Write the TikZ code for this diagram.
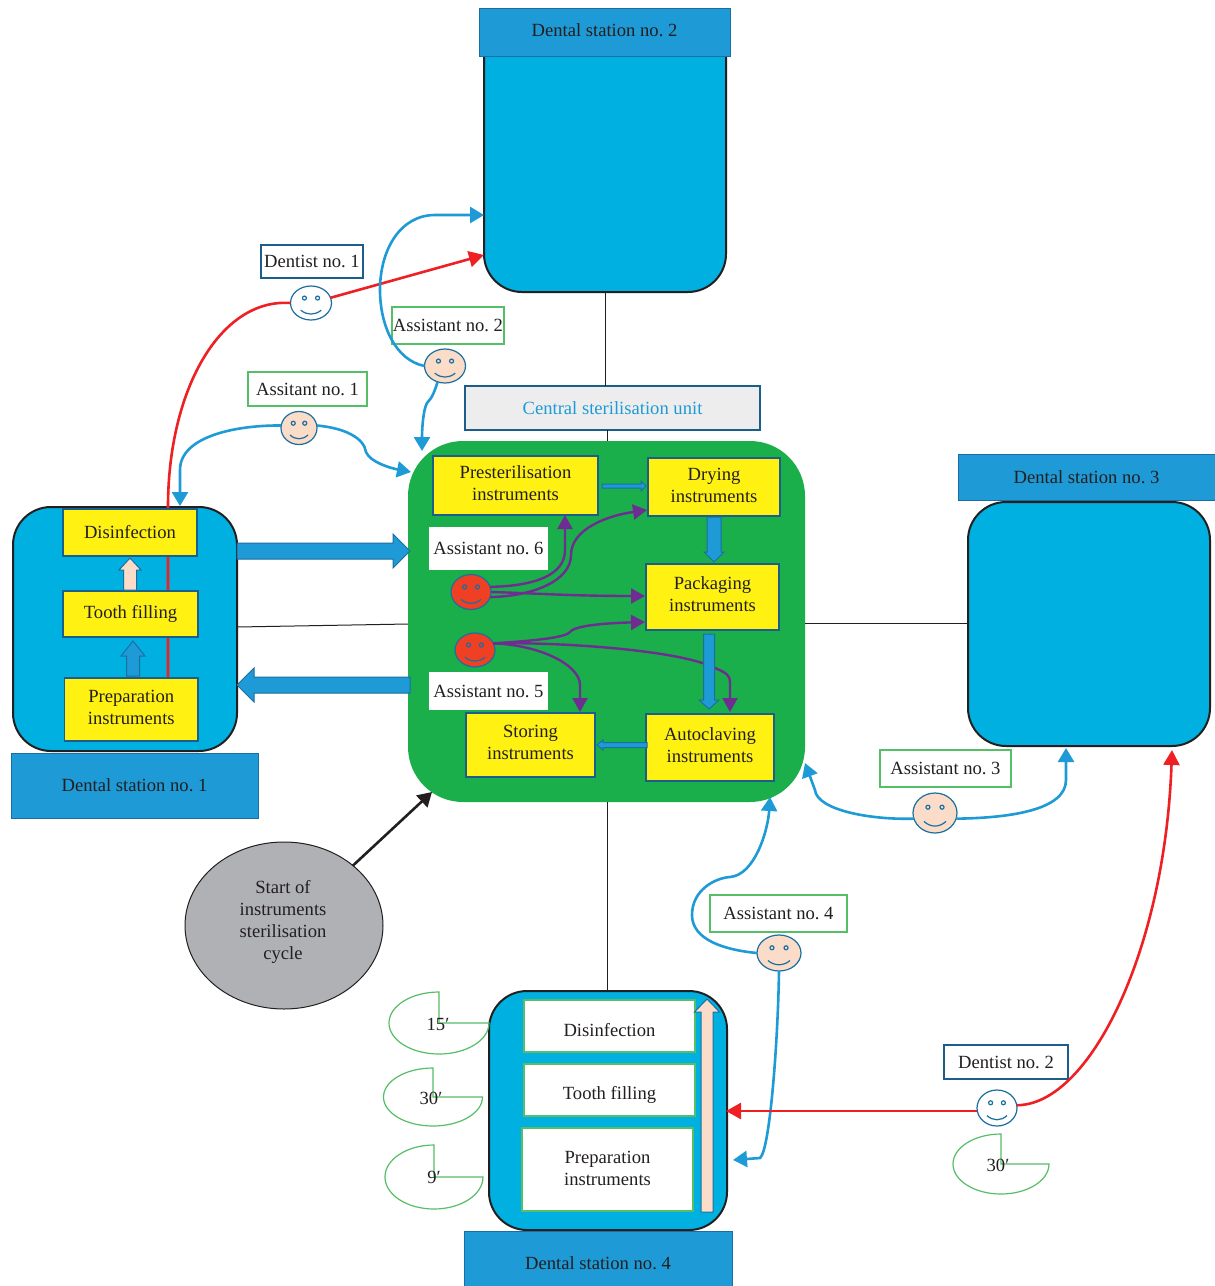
\documentclass[tikz,border=0pt]{standalone}
\usepackage{fontspec}
\setmainfont{Liberation Serif}
\usetikzlibrary{arrows.meta,calc,shapes.geometric}
\definecolor{cyanbody}{HTML}{00B0E0}
\definecolor{headblue}{HTML}{1E9AD6}
\definecolor{edgeblue}{HTML}{1B6FA0}
\definecolor{navyedge}{HTML}{1B5E8C}
\definecolor{darkedge}{HTML}{231F20}
\definecolor{yellowbox}{HTML}{FFF212}
\definecolor{greenblock}{HTML}{1BAF4B}
\definecolor{greenedge}{HTML}{55BE66}
\definecolor{peach}{HTML}{FADCC8}
\definecolor{redface}{HTML}{EF4023}
\definecolor{purplearrow}{HTML}{6F2C91}
\definecolor{redarrow}{HTML}{EE2024}
\definecolor{greyoval}{HTML}{B0B1B5}
\definecolor{lightgrey}{HTML}{EDEDEE}
\definecolor{textc}{HTML}{231F20}
\tikzset{
  every node/.style={font=\fontsize{18.6}{22}\selectfont\frenchspacing,text=textc,inner sep=0pt,outer sep=0pt,align=center},
  stationbody/.style={draw=darkedge,line width=2pt,fill=cyanbody,rounded corners=38pt},
  stationhead/.style={draw=edgeblue,line width=1pt,fill=headblue},
  ybox/.style={draw=navyedge,line width=1.2pt,fill=yellowbox},
  wbox/.style={draw=greenedge,line width=1.2pt,fill=white},
  plainbox/.style={fill=white},
  navylabel/.style={draw=navyedge,line width=1.2pt,fill=white},
  greenlabel/.style={draw=greenedge,line width=1.2pt,fill=white},
  thinline/.style={draw=darkedge,line width=1pt},
  bluecurve/.style={draw=headblue,line width=2.6pt,-{Triangle[length=14pt,width=16pt,fill=headblue]}},
  redcurve/.style={draw=redarrow,line width=2.6pt,-{Triangle[length=15pt,width=16pt,fill=redarrow]}},
  purplecurve/.style={draw=purplearrow,line width=2.4pt,-{Triangle[length=14pt,width=15pt,fill=purplearrow]}},
  pieline/.style={draw=greenedge,line width=1.2pt},
  faceline/.style={draw=edgeblue,line width=1.2pt},
  blockblue/.style={draw=edgeblue,line width=1pt,fill=headblue},
  blockpeach/.style={draw=edgeblue,line width=1pt,fill=peach},
  blockto/.style n args={3}{to path={
    ($(\tikztostart)!#1pt!90:(\tikztotarget)$)
    -- ($($(\tikztotarget)!#3pt!(\tikztostart)$)!#1pt!90:(\tikztotarget)$)
    -- ($($(\tikztotarget)!#3pt!(\tikztostart)$)!#2pt!90:(\tikztotarget)$)
    -- (\tikztotarget)
    -- ($($(\tikztotarget)!#3pt!(\tikztostart)$)!#2pt!-90:(\tikztotarget)$)
    -- ($($(\tikztotarget)!#3pt!(\tikztostart)$)!#1pt!-90:(\tikztotarget)$)
    -- ($(\tikztostart)!#1pt!-90:(\tikztotarget)$) -- cycle}}
}
\newcommand{\bx}[6]{\node[#1,minimum width={(#5-#3)*1pt},minimum height={(#6-#4)*1pt}] (#2) at ({(#3+#5)/2},{(#4+#6)/2}) {};}
\newcommand{\bxt}[7]{\node[#1,minimum width={(#5-#3)*1pt},minimum height={(#6-#4)*1pt}] (#2) at ({(#3+#5)/2},{(#4+#6)/2}) {#7};}
% text block moved up (txtup) or down (txtdn) by half of the extra padding
\newcommand{\txtup}[2]{\raisebox{0pt}[\height][\dimexpr\depth+#1pt\relax]{\begin{tabular}{@{}c@{}}#2\end{tabular}}}
\newcommand{\txtdn}[2]{\raisebox{0pt}[\dimexpr\height+#1pt\relax][\depth]{\begin{tabular}{@{}c@{}}#2\end{tabular}}}
% name, x, y, rx, ry, fill
\newcommand{\smiley}[6]{%
  \node[ellipse,draw=edgeblue,line width=1.2pt,fill=#6,minimum width={2*#4*1pt},minimum height={2*#5*1pt}] (#1) at (#2,#3) {};
  \draw[faceline] ({#2-0.32*#4},{#3-0.29*#5}) circle[radius=2pt];
  \draw[faceline] ({#2+0.32*#4},{#3-0.29*#5}) circle[radius=2pt];
  \draw[faceline] ({#2-0.5*#4},{#3+0.42*#5}) .. controls ({#2-0.2*#4},{#3+0.73*#5}) and ({#2+0.2*#4},{#3+0.73*#5}) .. ({#2+0.5*#4},{#3+0.42*#5});
}
% cx, cy, rx, ry
\newcommand{\pacman}[4]{\draw[pieline] (#1,#2) -- (#1,{#2-#4}) arc[start angle=90,end angle=360,x radius=#3pt,y radius=#4pt] -- cycle;}
\begin{document}
\begin{tikzpicture}[x=1pt,y=-1pt]
\useasboundingbox (0,0) rectangle (1215,1286);
\fill[white] (0,0) rectangle (1215,1286);

% Stations' bodies and central block
\bx{stationbody}{body2}{484}{10}{726}{292}
\bxt{stationhead}{head2}{479}{8}{730}{56}{\txtdn{1}{Dental station no. 2\hspace{9pt}}}
\bx{stationbody}{body3}{968}{502}{1210}{746}
\bxt{stationhead}{head3}{958}{454}{1215}{500}{Dental station no. 3}
\bx{stationbody}{body1}{13}{507}{237}{751}
\bxt{stationhead}{head1}{11}{753}{258}{818}{Dental station no. 1}
\bx{stationbody}{body4}{489}{991}{727}{1230}
\bxt{stationhead}{head4}{464}{1231}{732}{1286}{\txtdn{13}{Dental station no. 4}}
\node[fill=greenblock,rounded corners=55pt,minimum width=397pt,minimum height=361pt] (central) at (606.5,621.5) {};
\bxt{draw=navyedge,line width=1.2pt,fill=lightgrey,text=headblue}{unit}{465}{386}{760}{430}{Central sterilisation unit}

% Thin connecting lines
\draw[thinline] (body2.south) -- ([xshift=-7.5pt]unit.north);
\draw[thinline] ([xshift=-5.5pt]unit.south) -- ([xshift=0.5pt]central.north);
\draw[thinline] ([yshift=2pt]body1.east) -- ([yshift=-2.5pt]central.west);
\draw[thinline] ([yshift=-1.5pt]central.east) -- ([yshift=1pt]body3.west);
\draw[thinline] ([xshift=0.5pt]central.south) -- ([xshift=-1pt]body4.north);

% Faces
\smiley{dentA}{311}{303}{20.5}{17}{white}
\smiley{asstTwo}{445}{366}{20.5}{17}{peach}
\smiley{asstOne}{299}{428}{18}{16.5}{peach}
\smiley{asstThree}{935}{813}{22}{20}{peach}
\smiley{asstFour}{779}{953}{22}{18}{peach}
\smiley{dentB}{997}{1108}{20}{18}{white}
\smiley{asstSix}{471}{592}{20}{17.5}{redface}
\smiley{asstFive}{475}{650}{20}{17}{redface}

% Red dentist no. 1 route, behind the yellow boxes
\draw[draw=redarrow,line width=2.6pt] (dentA.west) .. controls (220,298) and (168,390) .. (168,507) -- (168,678);
\draw[redcurve] (dentA.15) -- ([yshift=-104pt]body2.west);

% Yellow boxes of station 1
\bxt{ybox}{disA}{63}{509}{197}{556}{Disinfection}
\bxt{ybox}{fillA}{63}{591}{198}{637}{Tooth filling}
\bxt{ybox}{prepA}{64.5}{678}{198}{741}{\txtup{1}{Preparation\\instruments}}

% Yellow boxes of sterilisation unit
\bxt{ybox}{pres}{433}{456}{598}{515}{\txtup{1}{Presterilisation\\instruments}}
\bxt{ybox}{dry}{648}{458}{780}{516}{\txtup{0}{Drying\\instruments}}
\bxt{ybox}{pack}{646}{564}{779}{630}{\txtup{1}{Packaging\\instruments}}
\bxt{ybox}{auto}{646}{714}{774}{781}{\txtup{1}{Autoclaving\\instruments}}
\bxt{ybox}{store}{466}{713}{595}{777}{\txtup{1}{Storing\\instruments}}
\bxt{plainbox}{lblSix}{429}{527}{548}{570}{Assistant no. 6}
\bxt{plainbox}{lblFive}{429}{672}{548}{710}{Assistant no. 5}

% Station 4 white boxes
\bxt{wbox}{disB}{524}{1000}{695}{1052}{\txtdn{12}{Disinfection}}
\bxt{wbox}{fillB}{524}{1064}{695}{1116}{\txtdn{10}{Tooth filling}}
\bxt{wbox}{prepB}{522}{1128}{693}{1211}{\txtdn{2}{Preparation\\instruments}}

% Labels
\bxt{navylabel}{lblDentA}{261}{245}{363}{278}{Dentist no. 1}
\bxt{greenlabel}{lblTwo}{392}{307}{504}{344}{Assistant no. 2}
\bxt{greenlabel}{lblOne}{248}{372}{367}{406}{Assitant no. 1}
\bxt{greenlabel}{lblThree}{880}{750}{1011}{787}{Assistant no. 3}
\bxt{greenlabel}{lblFour}{710}{895}{847}{932}{Assistant no. 4}
\bxt{navylabel}{lblDentB}{944}{1045}{1068}{1079}{Dentist no. 2}

% Blue curved connectors
\draw[bluecurve] (asstTwo.west) .. controls (395,360) and (380,325) .. (380,290) .. controls (380,250) and (400,215) .. (435,215) -- ([yshift=-64pt]body2.west);
\draw[bluecurve] (asstTwo.-115) .. controls (432,400) and (429,400) .. (427,403) .. controls (423,410) and (422,430) .. (422,451);
\draw[bluecurve] (asstOne.172) .. controls (240,425) and (180,435) .. (180,470) -- (180,506);
\draw[bluecurve] (asstOne.8) .. controls (345,428) and (364,438) .. (366,452) .. controls (370,462) and (390,468) .. (411,472);
\draw[bluecurve] (asstThree.195) .. controls (870,820) and (817,810) .. (815,790) -- (805,763);
\draw[bluecurve] (asstThree.-15) .. controls (1010,818) and (1066,810) .. (1066,780) -- (1066,748);
\draw[bluecurve] (asstFour.west) .. controls (725,950) and (692,940) .. (692,915) .. controls (692,890) and (715,878) .. (730,877) .. controls (755,875) and (768,830) .. (770,797);
\draw[bluecurve] (asstFour.south) .. controls (778,1040) and (770,1150) .. (760,1158) -- (733,1160);

% Red connectors of dentist no. 2
\draw[redcurve] ([yshift=-3pt]dentB.west) -- (726,1111);
\draw[redcurve] (dentB.8) .. controls (1090,1105) and (1165,950) .. (1172,750);

% Start oval
\node[ellipse,draw=darkedge,line width=1pt,fill=greyoval,minimum width=198pt,minimum height=167pt] (start) at (284,925.5) {};
\node (startText) at (283,921.5) {Start of\\instruments\\sterilisation\\cycle};
\draw[draw=darkedge,line width=2.6pt,-{Triangle[length=14pt,width=16pt,fill=darkedge]}] (start.41) -- ([xshift=-174.5pt,yshift=10pt]central.south);

% Purple connectors
\draw[purplecurve] (asstSix.15) .. controls (535,586) and (565,575) .. (565,550) -- ([xshift=49.5pt]pres.south);
\draw[purplecurve] (asstSix.-15) .. controls (535,596) and (571,580) .. (571,555) .. controls (571,530) and (605,516) .. (647,510);
\draw[purplecurve] (asstSix.east) .. controls (530,593) and (570,596) .. (645,596);
\draw[purplecurve] (asstFive.20) .. controls (530,641) and (565,638) .. (570,632) .. controls (575,625) and (610,623) .. (645,622);
\draw[purplecurve] (asstFive.20) .. controls (560,642) and (680,650) .. (715,668) .. controls (727,673) and (730,676) .. (730,682) -- (730,712);
\draw[purplecurve] (asstFive.20) .. controls (540,645) and (580,665) .. (580,685) -- (580,712);

% Block arrows
\coordinate (baS) at (237,551); \coordinate (baE) at (410,551);
\path[blockblue] (baS) to[blockto={8}{17}{17}] (baE);
\coordinate (bbS) at (410,685); \coordinate (bbE) at (237,685);
\path[blockblue] (bbS) to[blockto={8}{17}{17}] (bbE);
\coordinate (bcS) at (130,590); \coordinate (bcE) at (130,558);
\path[blockpeach] (bcS) to[blockto={6.5}{11}{12}] (bcE);
\coordinate (bdS) at (133,676); \coordinate (bdE) at (133,641);
\path[blockblue] (bdS) to[blockto={6.5}{12}{15}] (bdE);
\coordinate (beS) at (602,486); \coordinate (beE) at (646,486);
\path[blockblue] (beS) to[blockto={2}{5}{5}] (beE);
\coordinate (bfS) at (714,517); \coordinate (bfE) at (714,562);
\path[blockblue] (bfS) to[blockto={7}{10}{10}] (bfE);
\coordinate (bgS) at (709,634); \coordinate (bgE) at (709,709);
\path[blockblue] (bgS) to[blockto={5.5}{10}{9}] (bgE);
\coordinate (bhS) at (647,745); \coordinate (bhE) at (597,745);
\path[blockblue] (bhS) to[blockto={2.5}{5}{6}] (bhE);
\coordinate (biS) at (707,1212); \coordinate (biE) at (707,999);
\path[blockpeach] (biS) to[blockto={6}{12.5}{13}] (biE);

% Time pies
\pacman{439}{1023}{50}{31}
\pacman{433}{1097}{49.5}{29}
\pacman{434}{1177}{49}{32}
\pacman{1001}{1164}{48}{30}
\node (timeA) at (438,1024) {15′};
\node (timeB) at (431,1098) {30′};
\node (timeC) at (434,1177) {9′};
\node (timeD) at (998,1165) {30′};
\end{tikzpicture}
\end{document}
